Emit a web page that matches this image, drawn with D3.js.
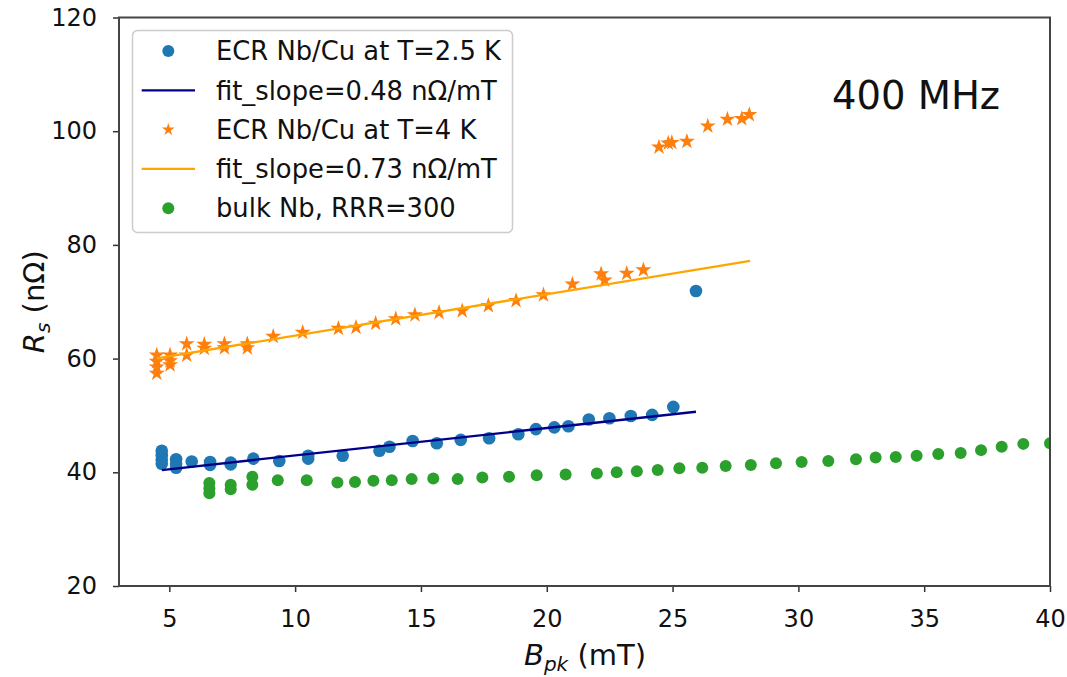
<!DOCTYPE html>
<html>
<head>
<meta charset="utf-8">
<script src="https://cdn.jsdelivr.net/npm/d3@7"></script>
<style>
  body { margin: 0; background: #fff; }
  svg { font-family: "DejaVu Sans", sans-serif; }
</style>
</head>
<body>
<svg id="chart" width="1067" height="677"></svg>
<script>
// ECR Nb/Cu at T=2.5 K
var ecr25X = [4.7, 4.7, 4.7, 4.7, 5.27, 5.27, 5.27, 5.89, 6.62, 6.62, 7.44, 7.44, 8.34, 9.37, 10.52, 10.52,
              11.89, 13.35, 13.75, 14.67, 15.63, 16.58, 17.71, 18.87, 19.57, 20.30, 20.86, 21.67, 22.49,
              23.34, 24.19, 25.03, 25.93];
var ecr25Y = [43.8, 43.0, 42.2, 41.5, 42.3, 41.5, 40.8, 41.9, 41.8, 41.3, 41.7, 41.4, 42.4, 42.0, 42.9, 42.4,
              42.9, 43.8, 44.5, 45.5, 45.1, 45.7, 46.0, 46.7, 47.6, 47.9, 48.1, 49.3, 49.5,
              49.9, 50.1, 51.5, 71.9];
var fit25X = [4.7, 25.93];
var fit25Y = [40.4, 50.65];

// ECR Nb/Cu at T=4 K
var ecr4X = [4.5, 4.5, 4.5, 4.5, 5.03, 5.03, 5.03, 5.69, 5.69, 6.39, 6.39, 7.19, 7.19, 8.10, 8.10, 9.13,
             10.30, 11.72, 12.42, 13.20, 14.00, 14.76, 15.72, 16.64, 17.68, 18.78, 19.87, 21.02, 22.16,
             22.3, 23.18, 23.84, 24.46, 24.83, 24.97, 25.57, 26.40, 27.18, 27.75, 28.05];
var ecr4Y = [60.6, 59.5, 58.5, 57.4, 60.6, 59.6, 58.9, 62.6, 60.6, 62.5, 61.8, 62.6, 61.9, 62.6, 61.9, 63.9,
             64.6, 65.3, 65.5, 66.2, 67.0, 67.7, 68.1, 68.4, 69.3, 70.2, 71.2, 73.1, 74.9,
             73.8, 75.0, 75.6, 97.2, 97.9, 98.0, 98.2, 100.9, 102.1, 102.2, 102.9];
var fit4X = [4.5, 28.08];
var fit4Y = [60.05, 77.2];

// bulk Nb, RRR=300
var bulkX = [6.59, 6.59, 6.59, 7.44, 7.44, 8.30, 8.30, 9.31, 10.46, 11.68, 12.38, 13.11, 13.84, 14.63,
             15.49, 16.46, 17.44, 18.50, 19.60, 20.75, 21.99, 22.78, 23.58, 24.41, 25.27, 26.18, 27.11,
             28.11, 29.11, 30.13, 31.19, 32.29, 33.07, 33.87, 34.70, 35.56, 36.45, 37.26, 38.08, 38.94, 40.0];
var bulkY = [38.1, 37.2, 36.3, 37.8, 37.0, 39.2, 37.8, 38.6, 38.6, 38.2, 38.3, 38.5, 38.6, 38.8,
             38.9, 38.8, 39.1, 39.2, 39.5, 39.6, 39.8, 40.0, 40.2, 40.4, 40.7, 40.8, 41.1,
             41.3, 41.6, 41.8, 42.0, 42.3, 42.6, 42.7, 42.9, 43.2, 43.4, 43.9, 44.5, 45.0, 45.1];

var xTicks = [5, 10, 15, 20, 25, 30, 35, 40];
var yTicks = [20, 40, 60, 80, 100, 120];
var legendLabels = ["ECR Nb/Cu at T=2.5 K", "fit_slope=0.48 nΩ/mT", "ECR Nb/Cu at T=4 K",
                    "fit_slope=0.73 nΩ/mT", "bulk Nb, RRR=300"];

(function draw() {
    var blue = "#1f77b4", orange = "#ff7f0e", green = "#2ca02c";
    var fitBlue = "#00008b", fitOrange = "#ffa500";

    var svg = d3.select("#chart");
    var m = {left: 119, right: 1050, top: 17.5, bottom: 586};

    var x = d3.scaleLinear().domain([3, 40]).range([m.left, m.right]);
    var y = d3.scaleLinear().domain([20, 120]).range([m.bottom, m.top]);

    svg.append("defs").append("clipPath").attr("id", "clip")
        .append("rect").attr("x", m.left).attr("y", m.top)
        .attr("width", m.right - m.left).attr("height", m.bottom - m.top);

    var plot = svg.append("g").attr("clip-path", "url(#clip)");

    function pts(xs, ys) { return xs.map(function(v, i) { return [v, ys[i]]; }); }
    var line = d3.line().x(function(d) { return x(d[0]); }).y(function(d) { return y(d[1]); });

    // orange stars
    plot.append("g").selectAll("path")
        .data(pts(ecr4X, ecr4Y))
        .enter().append("path")
        .attr("transform", function(d) { return "translate(" + x(d[0]) + "," + y(d[1]) + ")"; })
        .attr("d", d3.symbol().type(d3.symbolStar).size(80))
        .attr("fill", orange);

    plot.append("path").datum(pts(fit4X, fit4Y))
        .attr("d", line).attr("stroke", fitOrange).attr("stroke-width", 2.3).attr("fill", "none");

    // blue dots
    plot.append("g").selectAll("circle")
        .data(pts(ecr25X, ecr25Y))
        .enter().append("circle")
        .attr("cx", function(d) { return x(d[0]); })
        .attr("cy", function(d) { return y(d[1]); })
        .attr("r", 6.3)
        .attr("fill", blue);

    plot.append("path").datum(pts(fit25X, fit25Y))
        .attr("d", line).attr("stroke", fitBlue).attr("stroke-width", 2.3).attr("fill", "none");

    // green dots
    plot.append("g").selectAll("circle")
        .data(pts(bulkX, bulkY))
        .enter().append("circle")
        .attr("cx", function(d) { return x(d[0]); })
        .attr("cy", function(d) { return y(d[1]); })
        .attr("r", 6)
        .attr("fill", green);

    // axes
    var xAxis = svg.append("g")
        .attr("transform", "translate(0," + m.bottom + ")")
        .call(d3.axisBottom(x).tickValues(xTicks).tickSize(6).tickPadding(18));
    var yAxis = svg.append("g")
        .attr("transform", "translate(" + m.left + ",0)")
        .call(d3.axisLeft(y).tickValues(yTicks).tickSize(6).tickPadding(16));
    [xAxis, yAxis].forEach(function(a) {
        a.attr("font-size", 24).attr("font-family", "DejaVu Sans");
        a.select(".domain").remove();
        a.selectAll(".tick line").attr("stroke", "#333").attr("stroke-width", 1.5);
        a.selectAll(".tick text").attr("fill", "#111");
    });

    // frame
    svg.append("rect")
        .attr("x", m.left).attr("y", m.top)
        .attr("width", m.right - m.left).attr("height", m.bottom - m.top)
        .attr("fill", "none").attr("stroke", "#444").attr("stroke-width", 2);

    // axis labels
    var xl = svg.append("text")
        .attr("x", 585).attr("y", 665)
        .attr("text-anchor", "middle").attr("font-size", 29).attr("fill", "#111");
    xl.append("tspan").attr("font-style", "italic").text("B");
    xl.append("tspan").attr("font-style", "italic").attr("font-size", 20).attr("dy", 6).text("pk");
    xl.append("tspan").attr("dy", -6).text(" (mT)");

    var yl = svg.append("text")
        .attr("transform", "translate(44," + (m.top + m.bottom) / 2 + ") rotate(-90)")
        .attr("text-anchor", "middle").attr("font-size", 29).attr("fill", "#111");
    yl.append("tspan").attr("font-style", "italic").text("R");
    yl.append("tspan").attr("font-style", "italic").attr("font-size", 20).attr("dy", 6).text("s");
    yl.append("tspan").attr("dy", -6).text(" (nΩ)");

    // annotation
    svg.append("text")
        .attr("x", 916).attr("y", 109)
        .attr("text-anchor", "middle").attr("font-size", 38.5).attr("fill", "#111")
        .text("400 MHz");

    // legend
    var lg = svg.append("g");
    lg.append("rect")
        .attr("x", 132.5).attr("y", 30.5).attr("width", 380).attr("height", 202)
        .attr("rx", 5).attr("fill", "#fff").attr("fill-opacity", 0.8)
        .attr("stroke", "#ccc").attr("stroke-width", 1.5);

    var rows = lg.selectAll("g.row")
        .data(legendLabels)
        .enter().append("g").attr("class", "row")
        .attr("transform", function(d, i) { return "translate(0," + (51 + i * 39.3) + ")"; });

    rows.append("text")
        .attr("x", 216).attr("y", 0).attr("dy", "0.36em")
        .attr("font-size", 25.8).attr("fill", "#111")
        .text(function(d) { return d; });

    var mk = [
      function(g) { g.append("circle").attr("cx", 168.3).attr("r", 6).attr("fill", blue); },
      function(g) { g.append("line").attr("x1", 141.7).attr("x2", 195).attr("stroke", fitBlue).attr("stroke-width", 2.3); },
      function(g) { g.append("path").attr("transform", "translate(168.3,0)")
                     .attr("d", d3.symbol().type(d3.symbolStar).size(50)).attr("fill", orange); },
      function(g) { g.append("line").attr("x1", 141.7).attr("x2", 195).attr("stroke", fitOrange).attr("stroke-width", 2.3); },
      function(g) { g.append("circle").attr("cx", 168.3).attr("r", 6).attr("fill", green); }
    ];
    rows.each(function(d, i) { mk[i](d3.select(this)); });
})();
</script>
</body>
</html>
